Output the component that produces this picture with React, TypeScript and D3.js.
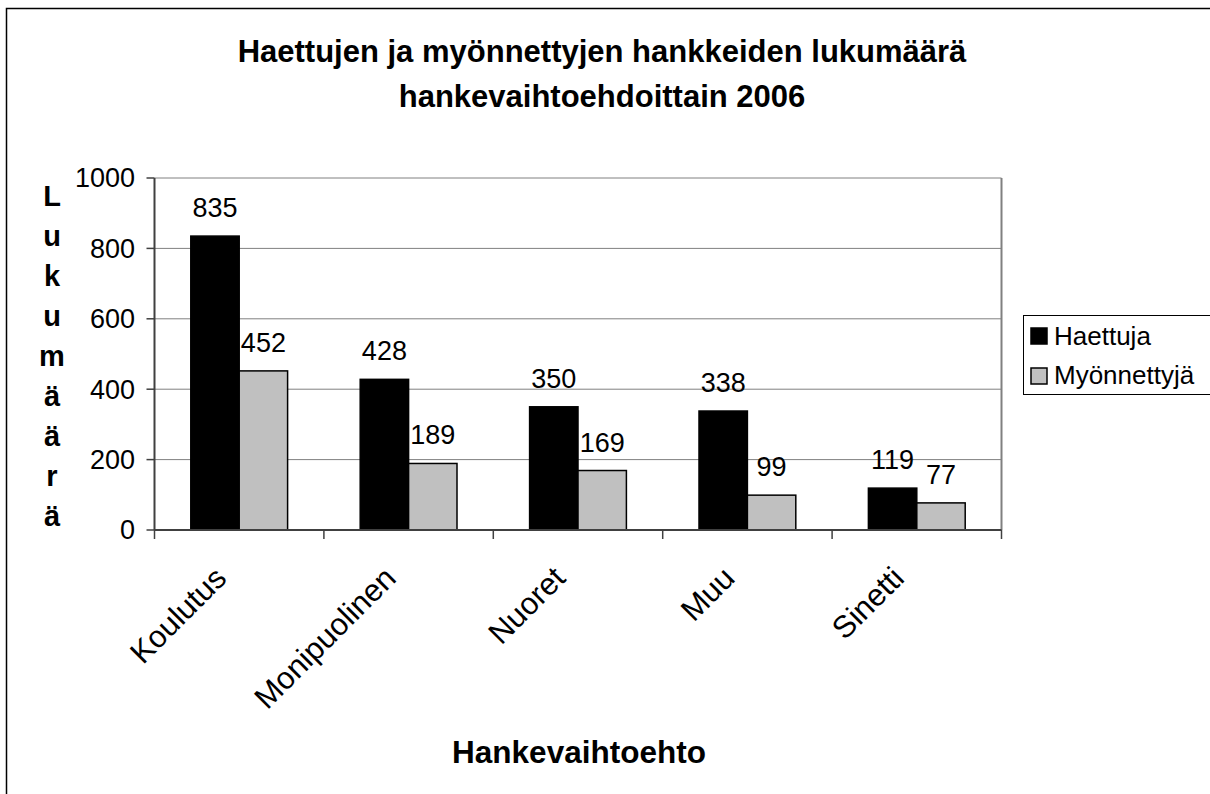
import * as d3 from 'd3';

const categories = ['Koulutus', 'Monipuolinen', 'Nuoret', 'Muu', 'Sinetti'];
const haettuja = [835, 428, 350, 338, 119];
const myonnettyja = [452, 189, 169, 99, 77];
const seriesNames = ['Haettuja', 'Myönnettyjä'];
const seriesColors = ['#000000', '#c0c0c0'];
const yTicks = [0, 200, 400, 600, 800, 1000];
const titleLines = ['Haettujen ja myönnettyjen hankkeiden lukumäärä', 'hankevaihtoehdoittain 2006'];
const yTitle = 'Lukumäärä';
const xTitle = 'Hankevaihtoehto';

const W = 1210;
const H = 794;
const font = '"Liberation Sans", Arial, sans-serif';

export default function App() {
  const plot = { left: 154.5, right: 1001.5, top: 178, bottom: 530 };

  const x = d3.scaleBand<string>()
    .domain(categories)
    .range([plot.left, plot.right]);

  // two bars per group, 150% gap like the original spreadsheet chart
  const barW = x.bandwidth() / 3.5;
  const inner = d3.scaleBand<number>()
    .domain([0, 1])
    .range([x.bandwidth() / 2 - barW, x.bandwidth() / 2 + barW]);

  const y = d3.scaleLinear().domain([0, 1000]).range([plot.bottom, plot.top]);

  const series = [haettuja, myonnettyja];
  const boundaries = [...categories.map(c => x(c) as number), plot.right];

  return (
    <svg width={W} height={H} style={{ position: 'absolute', left: 0, top: 0, background: '#fff' }} fontFamily={font}>
      <rect x={6.5} y={8.5} width={W + 20} height={H + 20} fill="#fff" stroke="#000" strokeWidth={1.5} />

      {titleLines.map((t, i) => (
        <text key={t} x={602} y={62 + i * 45} textAnchor="middle" fontSize={31} fontWeight="bold">{t}</text>
      ))}

      {/* gridlines */}
      {yTicks.filter(v => v > 0).map(v => (
        <line key={v} x1={plot.left} x2={plot.right} y1={y(v)} y2={y(v)} stroke="#808080" strokeWidth={1} />
      ))}
      {/* plot frame right */}
      <line x1={plot.right} x2={plot.right} y1={plot.top} y2={plot.bottom} stroke="#808080" strokeWidth={2} />

      {/* bars */}
      {series.map((vals, si) => vals.map((v, ci) => {
        const bx = (x(categories[ci]) as number) + (inner(si) as number);
        return (
          <rect key={`${si}-${ci}`} x={bx} y={y(v)} width={inner.bandwidth()} height={plot.bottom - y(v)}
            fill={seriesColors[si]} stroke="#000" strokeWidth={1.5} />
        );
      }))}

      {/* data labels */}
      {series.map((vals, si) => vals.map((v, ci) => {
        const cx = (x(categories[ci]) as number) + (inner(si) as number) + inner.bandwidth() / 2;
        return (
          <text key={`l${si}-${ci}`} x={cx} y={y(v) - 19} textAnchor="middle" fontSize={27}>{v}</text>
        );
      }))}

      {/* y axis */}
      <line x1={plot.left} x2={plot.left} y1={plot.top} y2={plot.bottom} stroke="#404040" strokeWidth={2} />
      {yTicks.map(v => (
        <g key={`t${v}`}>
          <line x1={plot.left - 8} x2={plot.left} y1={y(v)} y2={y(v)} stroke="#404040" strokeWidth={1.5} />
          <text x={135} y={y(v)} dy="0.35em" textAnchor="end" fontSize={27}>{v}</text>
        </g>
      ))}

      {/* x axis */}
      <line x1={plot.left} x2={plot.right} y1={plot.bottom} y2={plot.bottom} stroke="#404040" strokeWidth={2} />
      {boundaries.map((b, i) => (
        <line key={`xb${i}`} x1={b} x2={b} y1={plot.bottom} y2={plot.bottom + 9} stroke="#404040" strokeWidth={1.5} />
      ))}
      {categories.map(c => {
        const cx = (x(c) as number) + x.bandwidth() / 2;
        return (
          <text key={c} transform={`translate(${cx - 11},${580}) rotate(-45)`} textAnchor="end" fontSize={31}>{c}</text>
        );
      })}

      {/* axis titles */}
      {yTitle.split('').map((ch, i) => (
        <text key={`y${i}`} x={52} y={206 + i * 40} textAnchor="middle" fontSize={29} fontWeight="bold">{ch}</text>
      ))}
      <text x={579} y={763} textAnchor="middle" fontSize={31.5} fontWeight="bold">{xTitle}</text>

      {/* legend */}
      <rect x={1023.5} y={315.5} width={200} height={79} fill="#fff" stroke="#000" strokeWidth={1} />
      {seriesNames.map((n, i) => (
        <g key={n}>
          <rect x={1031} y={328 + i * 40} width={16} height={16} fill={seriesColors[i]} stroke="#000" strokeWidth={1.5} />
          <text x={1054} y={345 + i * 39} fontSize={26}>{n}</text>
        </g>
      ))}
    </svg>
  );
}
